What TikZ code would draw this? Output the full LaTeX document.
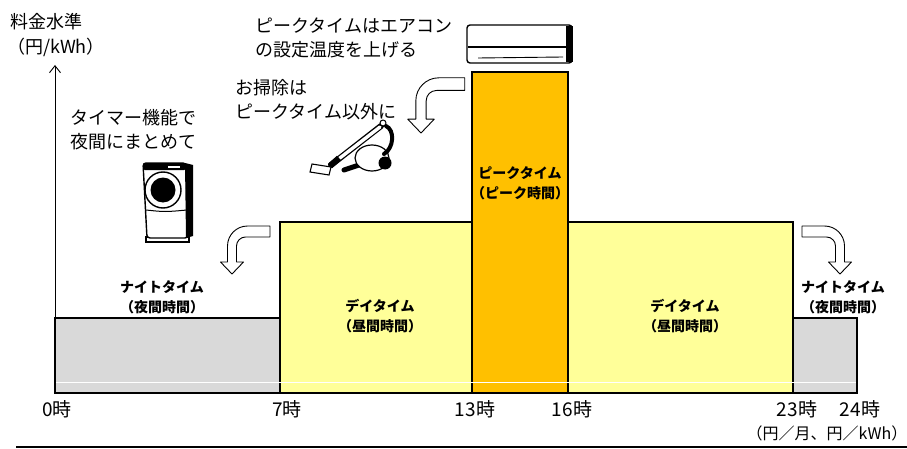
\documentclass[tikz,border=0pt]{standalone}
\usepackage{fontspec}
\setmainfont{Noto Sans CJK JP}
\usepackage{tikz}
\usetikzlibrary{arrows.meta}
\definecolor{nightgray}{HTML}{D9D9D9}
\definecolor{dayyellow}{HTML}{FFFF99}
\definecolor{peakorange}{HTML}{FFC000}

% bent block arrow, tip at the local origin
\newcommand{\bentarrow}[1]{%
  \begin{scope}[#1]
    \draw[bentstyle] (0,0) -- (11.5,12) -- (4.5,12) -- (4.5,28)
      arc[start angle=180, end angle=90, radius=9] -- (38,37) -- (38,48) -- (15.5,48)
      arc[start angle=90, end angle=180, radius=20] -- (-4.5,12) -- (-11.5,12) -- cycle;
  \end{scope}}

\begin{document}
\begin{tikzpicture}[x=1pt, y=1pt,
    tariff/.style={draw=black, line width=1.1pt},
    bentstyle/.style={draw=black, fill=white, line width=0.9pt, line join=round},
    bandlabel/.style={font=\fontsize{14}{20}\selectfont\bfseries, align=center, inner sep=0pt},
    note/.style={font=\fontsize{18}{24}\selectfont, align=left, inner sep=0pt, anchor=west},
    hourlabel/.style={font=\fontsize{19}{20}\selectfont, inner sep=0pt},
    gadget/.style={draw=black, fill=white, line width=1.4pt}]
\useasboundingbox (0,0) rectangle (907,448);

	% tariff bands
	\filldraw[tariff, fill=nightgray] (55,55) rectangle (280,130);
	\filldraw[tariff, fill=dayyellow] (280,55) rectangle (472,226);
	\filldraw[tariff, fill=dayyellow] (568,55) rectangle (793,226);
	\filldraw[tariff, fill=nightgray] (793,55) rectangle (857,130);
	\filldraw[tariff, fill=peakorange] (472,55) rectangle (568,376);
	\draw[white, line width=0.8pt] (56,66) -- (856,66);

	% axis
	\coordinate (origin) at (55,55);
	\coordinate (ytop) at (55,383);
	\draw[line width=0.9pt, -{Straight Barb[length=7pt, width=11pt]}] (origin) -- (ytop);
	\node[font=\fontsize{18}{20}\selectfont, inner sep=0pt, anchor=west] (ylab) at (10,426) {料金水準};
	\node[font=\fontsize{18}{20}\selectfont, inner sep=0pt] (yunit) at (56,401) {（円/kWh）};

	% band labels
	\node[bandlabel] (nightl) at (162,151) {ナイトタイム\\（夜間時間）};
	\node[bandlabel] (dayl) at (380,132) {デイタイム\\（昼間時間）};
	\node[bandlabel] (peak) at (520,265) {ピークタイム\\（ピーク時間）};
	\node[bandlabel] (dayr) at (685,132) {デイタイム\\（昼間時間）};
	\node[bandlabel] (nightr) at (843,151) {ナイトタイム\\（夜間時間）};

	% hours
	\node[hourlabel] (h0) at (57,39) {0時};
	\node[hourlabel] (h7) at (287,39) {7時};
	\node[hourlabel] (h13) at (475,39) {13時};
	\node[hourlabel] (h16) at (572,39) {16時};
	\node[hourlabel] (h23) at (797,39) {23時};
	\node[hourlabel] (h24) at (860,39) {24時};
	\node[font=\fontsize{16}{18}\selectfont, inner sep=0pt] (xunit) at (827,14.5) {（円／月、円／kWh）};
	\coordinate (rulel) at (16,1.2);
	\coordinate (ruler) at (907,1.2);
	\draw[line width=2.2pt] (rulel) -- (ruler);

	% notes
	\node[note] (aircon) at (255,410) {ピークタイムはエアコン\\の設定温度を上げる};
	\node[note] (clean) at (235,348.5) {お掃除は\\ピークタイム以外に};
	\node[note] (timer) at (70,318) {タイマー機能で\\夜間にまとめて};

	% bent arrows
	\bentarrow{shift={(232,174)}}
	\bentarrow{shift={(421,315)}, scale=1.15}
	\bentarrow{shift={(840,174)}, xscale=-1}

	% washing machine
	\filldraw[gadget, line width=1.2pt] (146,206) rectangle (189,211);
	\filldraw[gadget, rounded corners=3pt] (143,285) -- (147,210) -- (188,210) -- (186,285) -- cycle;
	\fill[black] (185,285) -- (193,283) -- (193,212) -- (186,210) -- cycle;
	\fill[black, rounded corners=2pt] (143,278) rectangle (186,285);
	\fill[white] (168,280) rectangle (180,282);
	\draw[line width=1pt] (146,238) .. controls (165,236) .. (187,238);
	\draw[line width=1.4pt] (163,258) circle[radius=18];
	\fill[black] (163,258) circle[radius=12.5];

	% vacuum cleaner
	\draw[line width=6pt, line cap=round] (381,322) -- (331,283);
	\draw[white, line width=3.4pt, line cap=round] (380,321) -- (336,287);
	\draw[line width=6pt] (339,290) -- (330,282);
	\filldraw[gadget, line width=1.1pt] (312,284) -- (331,281) -- (329,273) -- (310,276) -- cycle;
	\draw[line width=5pt, line cap=round] (344,278) -- (362,284);
	\filldraw[gadget, line width=1.2pt] (372,290) ellipse[x radius=17, y radius=13];
	\fill[black] (385,285) circle[radius=6.5];
	\draw[line width=4pt, line cap=round] (386,322) .. controls (395,318) and (394,300) .. (384,294);
	\filldraw[gadget, line width=1pt] (383,325) circle[radius=3];

	% air conditioner
	\filldraw[gadget, rounded corners=3pt] (467,385) rectangle (572,423);
	\draw[line width=2pt] (468,401) -- (571,401);
	\fill[black] (566,386) rectangle (573,422);
	\draw[line width=0.9pt] (478,390) -- (563,391);
\end{tikzpicture}
\end{document}
